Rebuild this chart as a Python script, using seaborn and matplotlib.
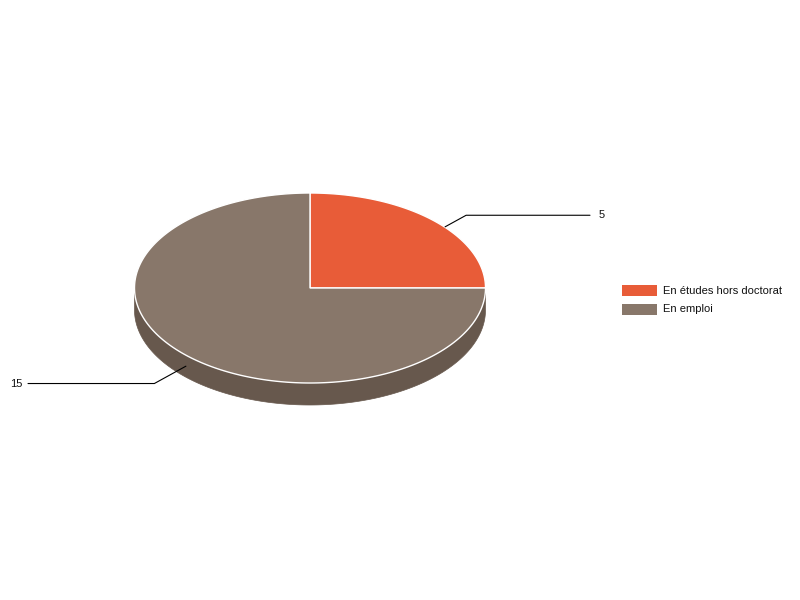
import numpy as np
import matplotlib
matplotlib.use("Agg")
import matplotlib.pyplot as plt
import seaborn as sns
from matplotlib.patches import Polygon, Rectangle

categories = ["En études hors doctorat", "En emploi"]
values = [5, 15]
top_colors = ["#E85C38", "#88776A"]
side_colors = ["#B04628", "#67584D"]

sns.set_theme(style="white")
plt.rcParams['font.family'] = ['Liberation Sans', 'DejaVu Sans']

fig = plt.figure(figsize=(8, 6), dpi=100)
ax = fig.add_axes([0, 0, 1, 1])
ax.set_xlim(0, 800)
ax.set_ylim(600, 0)
ax.axis('off')

cx, cy, rx, ry, depth = 310, 288, 175.5, 95, 22


def pt(a, dy=0.0):
    return cx + rx * np.cos(a), cy - ry * np.sin(a) + dy


total = float(sum(values))
slices = []
start = np.pi / 2
for v in values:
    sweep = 2 * np.pi * v / total
    slices.append((start, start - sweep))
    start -= sweep

# side walls (front half only)
for (a1, a2), sc in zip(slices, side_colors):
    t = np.linspace(a1, a2, 400)
    mask = np.sin(t) < -1e-9
    runs = []
    cur = []
    for ti, m in zip(t, mask):
        if m:
            cur.append(ti)
        elif cur:
            runs.append(cur)
            cur = []
    if cur:
        runs.append(cur)
    for r in runs:
        r = np.array(r)
        if len(r) < 2:
            continue
        up = np.column_stack(pt(r))
        lo = np.column_stack(pt(r[::-1], depth))
        ax.add_patch(Polygon(np.vstack([up, lo]), closed=True, facecolor=sc,
                             edgecolor=sc, lw=0.5, zorder=1))

# top faces
for (a1, a2), tc in zip(slices, top_colors):
    t = np.linspace(a1, a2, 400)
    arc = np.column_stack(pt(t))
    poly = np.vstack([[cx, cy], arc])
    ax.add_patch(Polygon(poly, closed=True, facecolor=tc, edgecolor='white',
                         lw=1.0, joinstyle='miter', zorder=2))

# labels with leader lines
for (a1, a2), v in zip(slices, values):
    mid = (a1 + a2) / 2
    s = np.sin(mid)
    c = np.cos(mid)
    ax_, ay_ = pt(mid, depth / 2 if s < 0 else 0)
    if s >= 0:
        ax_ += 11 * np.sign(c)
        ay_ += 6
    d = np.array([c, -s * 0.55])
    d = d / np.linalg.norm(d)
    ln = 24 if s >= 0 else 36
    ex, ey = ax_ + ln * d[0], ay_ + ln * d[1]
    if c >= 0:
        endx = 590
        ax.plot([ax_, ex, endx], [ay_, ey, ey], color='black', lw=0.8, zorder=3)
        ax.text(endx + 9, ey, str(v), ha='left', va='center', fontsize=8, color='#111111')
    else:
        endx = 28
        ax.plot([ax_, ex, endx], [ay_, ey, ey], color='black', lw=0.8, zorder=3)
        ax.text(endx - 6, ey, str(v), ha='right', va='center', fontsize=8, color='#111111')

# legend
for i, (cat, col) in enumerate(zip(categories, top_colors)):
    y0 = 285 + i * 19
    ax.add_patch(Rectangle((622, y0), 35, 11, facecolor=col, edgecolor='none', zorder=3))
    ax.text(663, y0 + 5.5, cat, ha='left', va='center', fontsize=8, color='#111111')

fig.savefig("out.png", dpi=100, facecolor='white')
